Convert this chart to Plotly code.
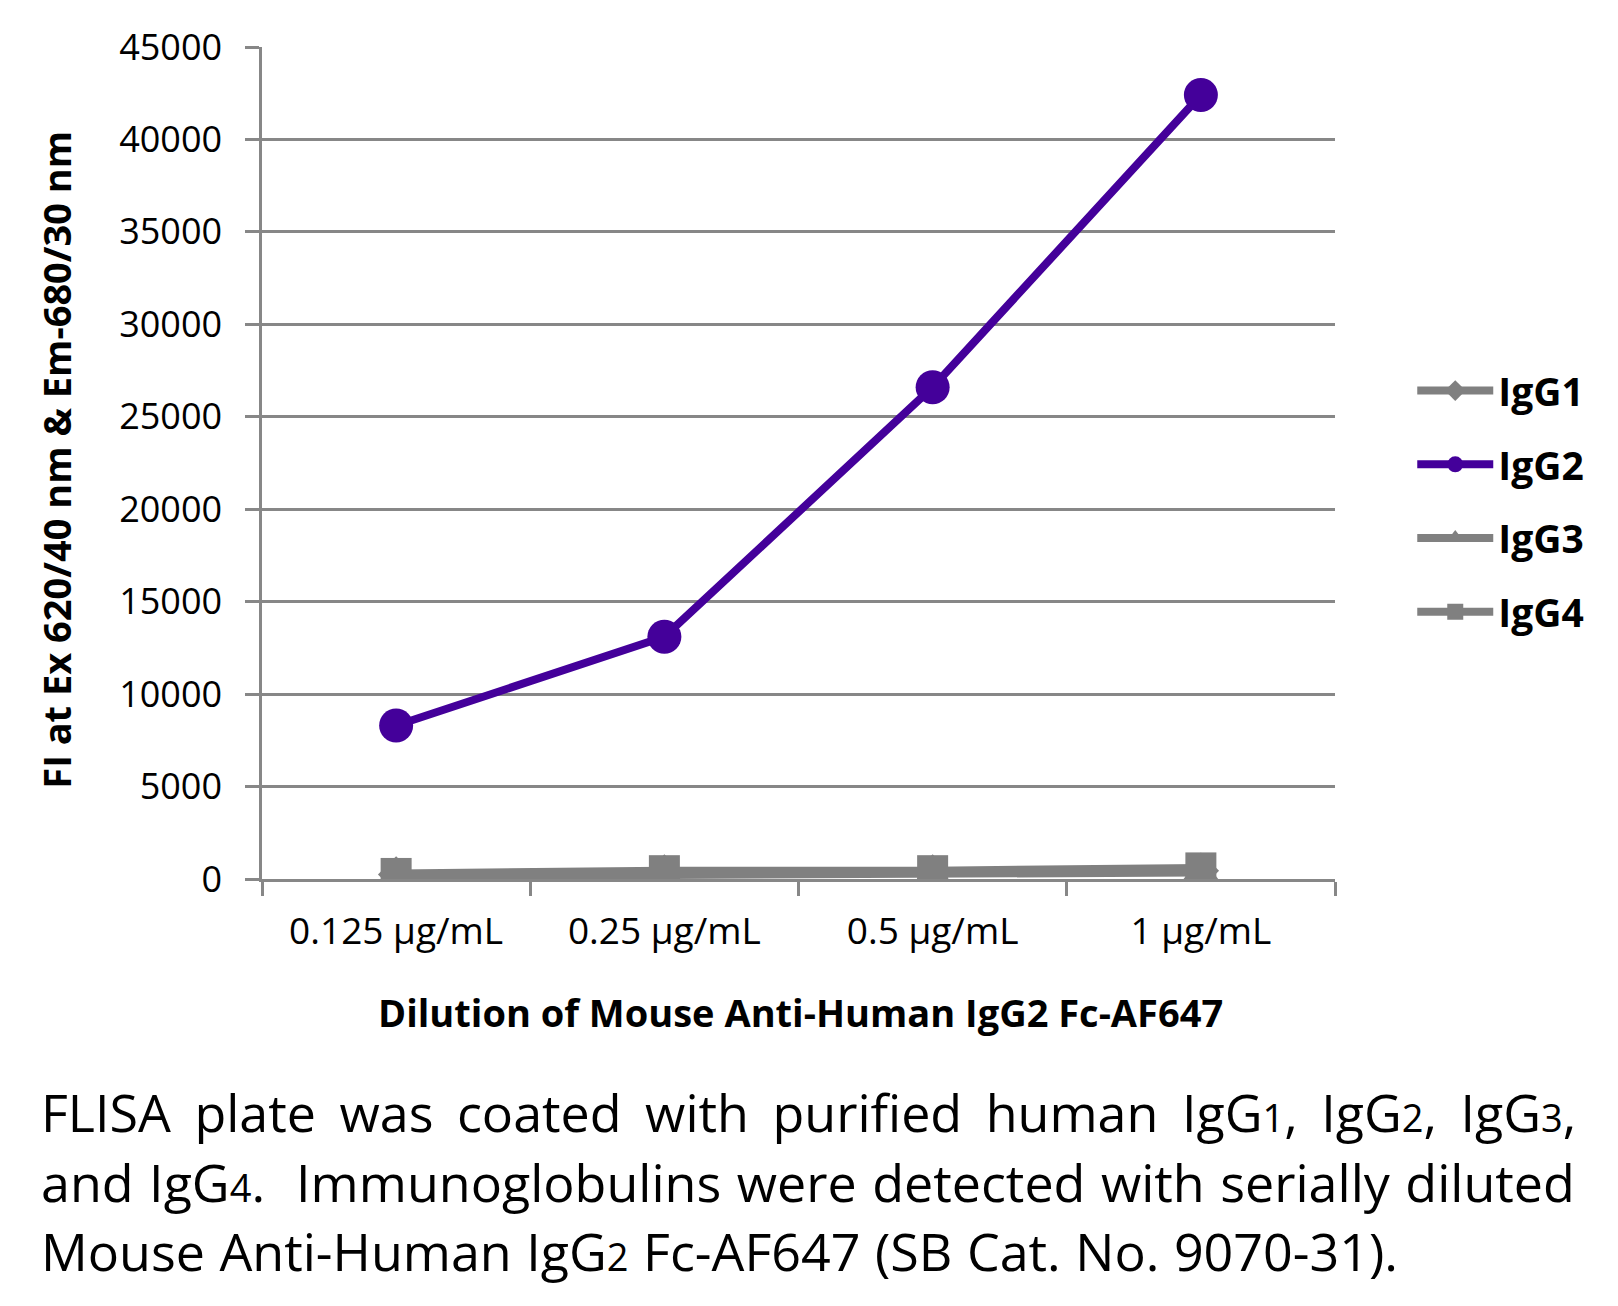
import plotly.graph_objects as go

categories = ["0.125 µg/mL", "0.25 µg/mL", "0.5 µg/mL", "1 µg/mL"]
igg1 = [250, 350, 350, 450]
igg2 = [8300, 13100, 26600, 42400]
igg3 = [150, 250, 250, 350]
igg4 = [300, 450, 450, 600]
y_ticks = [0, 5000, 10000, 15000, 20000, 25000, 30000, 35000, 40000, 45000]

GRAY = "#808080"
PURPLE = "#44009A"
GRID = "#878787"
FONT = "Open Sans"

fig = go.Figure()
series = [
    ("IgG1", igg1, GRAY, "diamond", 28),
    ("IgG2", igg2, PURPLE, "circle", 34),
    ("IgG3", igg3, GRAY, "triangle-up", 32),
    ("IgG4", igg4, GRAY, "square", 31),
]
for name, vals, col, sym, size in series:
    fig.add_trace(go.Scatter(
        x=categories, y=vals, name=name, mode="lines+markers",
        line=dict(color=col, width=8),
        marker=dict(color=col, symbol=sym, size=size),
        legendgroup=name,
    ))

fig.update_layout(
    width=1618, height=1306,
    margin=dict(l=254, r=291, t=39, b=435),
    paper_bgcolor="white", plot_bgcolor="white",
    font=dict(family=FONT, color="black"),
    legend=dict(
        x=1.072, xanchor="left", y=0.454, yanchor="middle",
        font=dict(family=FONT, size=39, color="black", weight="bold"),
        tracegroupgap=20, itemsizing="trace", itemwidth=76,
        bgcolor="rgba(0,0,0,0)",
    ),
    showlegend=True,
)
fig.update_xaxes(
    type="category", range=[-0.5, 3.5],
    tickson="boundaries", ticks="outside", ticklen=14, tickwidth=2.5, tickcolor=GRID,
    showline=True, linecolor=GRID, linewidth=2.5, showgrid=False, zeroline=False,
    tickfont=dict(family=FONT, size=37, color="black"),
    ticklabelstandoff=18,
)
fig.update_yaxes(
    range=[0, 45000], tickvals=y_ticks, ticktext=[str(v) for v in y_ticks],
    ticks="outside", ticklen=14, tickwidth=2.5, tickcolor=GRID,
    showline=True, linecolor=GRID, linewidth=2.5,
    showgrid=True, gridcolor=GRID, gridwidth=2.5, zeroline=False,
    tickfont=dict(family=FONT, size=36, color="black"),
    ticklabelstandoff=16,
)

ann = []
ann.append(dict(text="<b>Dilution of Mouse Anti-Human IgG2 Fc-AF647</b>", x=0.502, y=-0.160,
                xref="paper", yref="paper", showarrow=False, xanchor="center", yanchor="middle",
                font=dict(family=FONT, size=38, color="black")))
ann.append(dict(text="<b>FI at Ex 620/40 nm &amp; Em-680/30 nm</b>", x=-0.192, y=0.504, textangle=-90,
                xref="paper", yref="paper", showarrow=False, xanchor="center", yanchor="middle",
                font=dict(family=FONT, size=38, color="black")))

SUB = '<span style="font-size:38px">%s</span>'
cap_lines = [
    ("FLISA plate was coated with purified human IgG" + SUB % "1" + ", IgG" + SUB % "2" + ", IgG" + SUB % "3" + ",", -0.280, 10),
    ("and IgG" + SUB % "4" + ".  Immunoglobulins were detected with serially diluted", -0.363, 2),
    ("Mouse Anti-Human IgG" + SUB % "2" + " Fc-AF647 (SB Cat. No. 9070-31).", -0.446, 1),
]
for txt, yy, ws in cap_lines:
    if ws:
        txt = '<span style="word-spacing:%dpx">%s</span>' % (ws, txt)
    ann.append(dict(text=txt, x=-0.208, y=yy, xref="paper", yref="paper", showarrow=False,
                    xanchor="left", yanchor="middle", align="left",
                    font=dict(family=FONT, size=52, color="black")))
fig.update_layout(annotations=ann)

fig.write_html("out.html")
